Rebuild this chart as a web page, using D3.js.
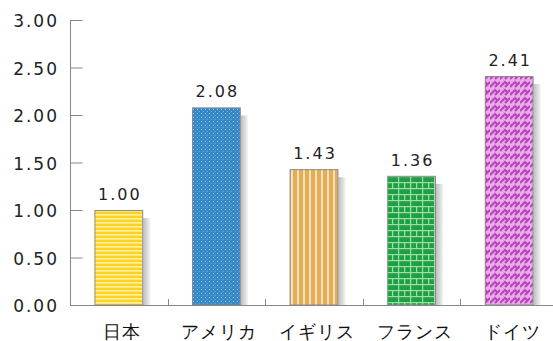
<!DOCTYPE html>
<html><head><meta charset="utf-8">
<script src="https://cdn.jsdelivr.net/npm/d3@7"></script>
<style>body{margin:0;background:#fff}svg{display:block}text{font-family:"DejaVu Sans",sans-serif}</style>
</head><body><svg id="c" width="553" height="341"></svg>
<script>
const categories = ["日本","アメリカ","イギリス","フランス","ドイツ"];
const values = [1.00, 2.08, 1.43, 1.36, 2.41];
const valueLabels = ["1.00","2.08","1.43","1.36","2.41"];
const yTicks = [0,0.5,1,1.5,2,2.5,3];
const patternIds = ["pYellow","pBlue","pTan","pGreen","pPink"];

const svg = d3.select("#c");
const defs = svg.append("defs");

// yellow horizontal stripes
let p = defs.append("pattern").attr("id","pYellow").attr("patternUnits","userSpaceOnUse").attr("width",4).attr("height",4);
p.append("rect").attr("width",4).attr("height",4).attr("fill","#FFD21E");
p.append("rect").attr("y",2).attr("width",4).attr("height",1.6).attr("fill","#FFF2A8");
// blue dots
p = defs.append("pattern").attr("id","pBlue").attr("patternUnits","userSpaceOnUse").attr("width",4).attr("height",4);
p.append("rect").attr("width",4).attr("height",4).attr("fill","#3588C8");
p.append("rect").attr("x",1).attr("y",1).attr("width",1).attr("height",1).attr("fill","#A8D4F0");
p.append("rect").attr("x",3).attr("y",3).attr("width",1).attr("height",1).attr("fill","#6AAEDE");
// tan vertical stripes
p = defs.append("pattern").attr("id","pTan").attr("patternUnits","userSpaceOnUse").attr("width",6).attr("height",6);
p.append("rect").attr("width",6).attr("height",6).attr("fill","#E3AE55");
p.append("rect").attr("x",3).attr("width",2).attr("height",6).attr("fill","#F7E2BA");
// green bricks
p = defs.append("pattern").attr("id","pGreen").attr("patternUnits","userSpaceOnUse").attr("width",12).attr("height",12);
p.append("rect").attr("width",12).attr("height",12).attr("fill","#1EA044");
p.append("rect").attr("y",2).attr("width",12).attr("height",1.2).attr("fill","#A0DCA8");
p.append("rect").attr("y",8).attr("width",12).attr("height",1.2).attr("fill","#A0DCA8");
p.append("rect").attr("x",2).attr("y",0).attr("width",1.2).attr("height",12).attr("fill","#A0DCA8");
p.append("rect").attr("x",8).attr("y",2).attr("width",1.2).attr("height",6).attr("fill","#A0DCA8");
// pink herringbone
p = defs.append("pattern").attr("id","pPink").attr("patternUnits","userSpaceOnUse").attr("width",10).attr("height",8);
p.append("rect").attr("width",10).attr("height",8).attr("fill","#EBA8EB");
p.append("path").attr("d","M0,7 L5,2 L8,5 M5,7 L10,2").attr("stroke","#B445B8").attr("stroke-width",2).attr("fill","none");

// shadow gradient
const g = defs.append("linearGradient").attr("id","shadowG").attr("x1","0").attr("x2","1").attr("y1","0").attr("y2","0");
g.append("stop").attr("offset","0").attr("stop-color","#bdbdbd");
g.append("stop").attr("offset","1").attr("stop-color","#f2f2f2");

const x = d3.scaleBand().domain(categories).range([70,558]).paddingInner(0.5).paddingOuter(0.25);
const y = d3.scaleLinear().domain([0,3]).range([305,20]);

// shadows
svg.append("g").selectAll("rect").data(categories).join("rect")
  .attr("x",d=>x(d)+x.bandwidth())
  .attr("y",(d,i)=>y(values[i])+8)
  .attr("width",7)
  .attr("height",(d,i)=>305-y(values[i])-8)
  .attr("fill","url(#shadowG)");

// bars
svg.append("g").selectAll("rect").data(categories).join("rect")
  .attr("x",d=>x(d)+0.5)
  .attr("y",(d,i)=>y(values[i])+0.5)
  .attr("width",x.bandwidth()-1)
  .attr("height",(d,i)=>305-y(values[i])-0.5)
  .attr("fill",(d,i)=>`url(#${patternIds[i]})`)
  .attr("stroke","#8a8a8a").attr("stroke-width",1);

// value labels
svg.append("g").selectAll("text").data(categories).join("text")
  .attr("x",d=>x(d)+x.bandwidth()/2+1)
  .attr("y",(d,i)=>y(values[i])-10)
  .attr("text-anchor","middle")
  .attr("font-size",16).attr("letter-spacing","2px").attr("fill","#222")
  .attr("font-family","'Liberation Sans',sans-serif")
  .text((d,i)=>valueLabels[i]);

// y axis
const yAxis = d3.axisRight(y).tickValues(yTicks).tickSize(12).tickFormat("");
const ya = svg.append("g").attr("transform","translate(70.5,0)").call(yAxis);
ya.selectAll("path,line").attr("stroke","#888");
ya.select(".domain").attr("d","M0,20V305");
svg.append("g").selectAll("text").data(yTicks).join("text")
  .attr("x",59).attr("y",d=>y(d)+7)
  .attr("text-anchor","end").attr("font-size",17).attr("letter-spacing","2px").attr("fill","#222")
  .attr("font-family","'Liberation Sans',sans-serif")
  .text(d=>d3.format(".2f")(d));

// x axis
svg.append("line").attr("x1",70).attr("x2",553).attr("y1",305.5).attr("y2",305.5).attr("stroke","#888");
const bounds = categories.slice(1).map(c=>x(c)-x.step()*x.paddingInner()/2);
svg.append("g").selectAll("line").data(bounds).join("line")
  .attr("x1",d=>Math.round(d)+0.5).attr("x2",d=>Math.round(d)+0.5)
  .attr("y1",299).attr("y2",305).attr("stroke","#888");

svg.append("g").selectAll("text").data(categories).join("text")
  .attr("x",d=>x(d)+x.bandwidth()/2+3)
  .attr("y",338)
  .attr("text-anchor","middle").attr("font-size",18).attr("letter-spacing","1px").attr("fill","#111")
  .attr("font-family","'Noto Sans CJK JP',sans-serif")
  .text(d=>d);
</script></body></html>
